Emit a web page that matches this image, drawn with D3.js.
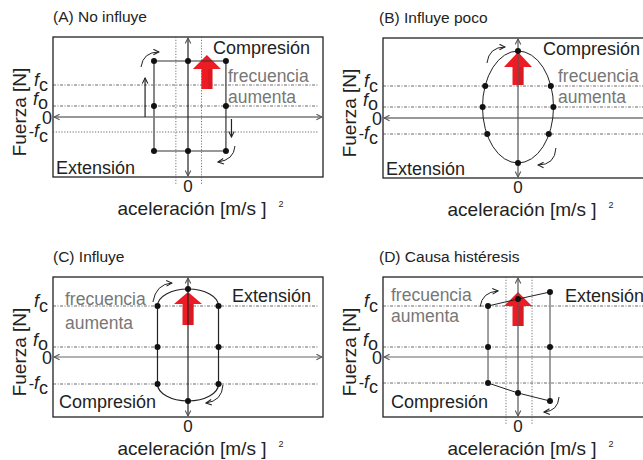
<!DOCTYPE html>
<html><head><meta charset="utf-8">
<script src="https://cdn.jsdelivr.net/npm/d3@7"></script>
<style>body{margin:0;background:#fff} svg{display:block} text{font-family:"Liberation Sans",Arial,Helvetica,sans-serif}</style>
</head><body><svg id="c" width="643" height="460"></svg>
<script>
// ---------- data ----------
const panelTitles = ["(A) No influye", "(B) Influye poco", "(C) Influye", "(D) Causa histéresis"];
const levelNames = ["fc", "fo", "0", "-fc"];
// y-positions of the guide levels (force, arbitrary units) per panel
const levelsA = [0.8, 0.275, 0, -0.375];
const levelsB = [0.8, 0.275, 0, -0.4];
const levelsC = [1.275, 0.25, 0, -0.675];
const levelsD = [1.275, 0.25, 0, -0.65];
// (A) rectangle loop
const loopA = [[-0.252, 1.4], [0.281, 1.4], [0.281, -0.85], [-0.252, -0.85]];
const dotsA = [[-0.252, 1.4], [0, 1.4], [0.281, 1.4], [-0.252, 0.275], [0.281, 0.275], [-0.252, -0.85], [0, -0.85], [0.281, -0.85]];
const vlinesA = [-0.09, 0.1];
// (B) ellipse loop: centre x, centre y, rx, ry
const ellipseB = [0, 0.275, 0.263, 1.4];
const dotsB = [[0, 1.675], [-0.243, 0.8], [0.243, 0.8], [-0.262, 0.275], [0.262, 0.275], [-0.228, -0.4], [0.228, -0.4], [0, -1.125]];
// (C) loop: left x, right x, top peak, bottom peak
const loopC = [-0.226, 0.226, 1.7, -1.1];
const dotsC = [[-0.226, 1.275], [0, 1.7], [0.226, 1.275], [-0.226, 0.25], [0.226, 0.25], [-0.226, -0.675], [0, -1.1], [0.226, -0.675]];
// (D) hysteresis loop
const topD = [[-0.222, 1.275], [0, 1.45], [0.237, 1.625]];
const botD = [[-0.222, -0.65], [0, -0.9], [0.237, -1.1]];
const dotsD = [[-0.222, 1.275], [0, 1.45], [0.237, 1.625], [-0.222, 0.25], [0.237, 0.25], [-0.222, -0.65], [0, -0.9], [0.237, -1.1]];
const vlinesD = [-0.089, 0.104];
// red "frequency increases" arrows: x, tip y, head-base y, tail y
const redArrows = [[0.14, 1.55, 1.2, 0.7], [0, 1.65, 1.275, 0.825], [0, 1.625, 1.325, 0.8], [0, 1.625, 1.275, 0.775]];
// curved direction arrows: start, control, end
const curvesA = [[[-0.348, 1.25], [-0.333, 1.625], [-0.215, 1.625]], [[0.348, -0.725], [0.34, -1.075], [0.222, -1.125]]];
const straightA = [[[-0.318, 0.0], [-0.318, 0.975]], [[0.322, -0.05], [0.322, -0.5]]];
const curvesB = [[[-0.23, 1.375], [-0.215, 1.775], [-0.096, 1.775]], [[0.281, -0.75], [0.274, -1.175], [0.148, -1.175]]];
const curvesC = [[[-0.26, 1.375], [-0.237, 1.825], [-0.119, 1.85]], [[0.259, -0.7], [0.252, -1.1], [0.133, -1.15]]];
const curvesD = [[[-0.281, 1.25], [-0.267, 1.625], [-0.148, 1.65]], [[0.304, -1.0], [0.296, -1.35], [0.193, -1.375]]];
const xTick = "0";
const xTitle = "aceleración [m/s ]";
const yTitle = "Fuerza [N]";

// ---------- layout ----------
const W = 270, H = 140;
const panels = [
  {left: 53, top: 37, levels: levelsA, vlines: vlinesA, curves: curvesA, straight: straightA, hAxis: "#333", vAxis: "#222",
   texts: [["Compresión", 160, 17, "#222"], ["frecuencia", 175, 45, "#777"], ["aumenta", 175, 66, "#777"], ["Extensión", 3, 137, "#222"]]},
  {left: 383, top: 38, levels: levelsB, vlines: [], curves: curvesB, straight: [], hAxis: "#333", vAxis: "#555",
   texts: [["Compresión", 160, 17, "#222"], ["frecuencia", 175, 44, "#777"], ["aumenta", 175, 65, "#777"], ["Extensión", 3, 137, "#222"]]},
  {left: 53, top: 277, levels: levelsC, vlines: [], curves: curvesC, straight: [], hAxis: "#666", vAxis: "#222",
   texts: [["Extensión", 179, 25, "#222"], ["frecuencia", 12, 28, "#777"], ["aumenta", 12, 52, "#777"], ["Compresión", 6, 131, "#222"]]},
  {left: 383, top: 277, levels: levelsD, vlines: vlinesD, curves: curvesD, straight: [], hAxis: "#666", vAxis: "#555",
   texts: [["Extensión", 182, 25, "#222"], ["frecuencia", 8, 24, "#777"], ["aumenta", 8, 45, "#777"], ["Compresión", 8, 131, "#222"]]}
];

const svg = d3.select("#c");
svg.append("rect").attr("width", 643).attr("height", 460).attr("fill", "#fff");
const defs = svg.append("defs");
function chev(id, color) {
  defs.append("marker").attr("id", id).attr("viewBox", "0 0 10 10").attr("refX", 9).attr("refY", 5)
    .attr("markerWidth", 7).attr("markerHeight", 7).attr("markerUnits", "userSpaceOnUse")
    .attr("orient", "auto-start-reverse")
    .append("path").attr("d", "M1,1 L9,5 L1,9").attr("fill", "none").attr("stroke", color).attr("stroke-width", 1.5);
}
chev("ch", "#222");
chev("chg", "#555");

panels.forEach((p, i) => {
  const g = svg.append("g");
  const x = d3.scaleLinear().domain([-1, 1]).range([p.left, p.left + W]);
  const y = d3.scaleLinear().domain([-1.5, 2]).range([p.top + H, p.top]);
  const x0 = x(0);

  // title
  g.append("text").attr("x", p.left + (i % 2 ? -4 : 0)).attr("y", p.top - 15).attr("font-size", 15.5).attr("fill", "#222").text(panelTitles[i]);

  // box
  g.append("rect").attr("x", p.left).attr("y", p.top).attr("width", W).attr("height", H)
    .attr("fill", "none").attr("stroke", "#222").attr("stroke-width", 1.3);

  // guide levels
  p.levels.forEach((v, k) => {
    if (levelNames[k] === "0") return;
    g.append("line").attr("x1", x(-1)).attr("x2", x(1) - 4).attr("y1", y(v)).attr("y2", y(v))
      .attr("stroke", "#444").attr("stroke-width", 0.8)
      .attr("stroke-dasharray", levelNames[k] === "-fc" && i === 0 ? "1.2,1.6" : "3,1.5,1,1.5");
  });
  // vertical dotted guides
  p.vlines.forEach(v => {
    g.append("line").attr("x1", x(v)).attr("x2", x(v)).attr("y1", p.top).attr("y2", p.top + H + 7)
      .attr("stroke", "#555").attr("stroke-width", 0.8).attr("stroke-dasharray", "1.2,1.6");
  });

  // red arrow
  const ra = redArrows[i];
  const ax = x(ra[0]), hw = 14, sw = 5.5;
  g.append("polygon").attr("fill", "#ed1c24").attr("points", [
    [ax, y(ra[1])], [ax + hw, y(ra[2])], [ax + sw, y(ra[2])], [ax + sw, y(ra[3])],
    [ax - sw, y(ra[3])], [ax - sw, y(ra[2])], [ax - hw, y(ra[2])]].map(d => d.join(",")).join(" "));
  g.append("rect").attr("x", ax + 1).attr("y", y(ra[2])).attr("width", sw - 1).attr("height", y(ra[3]) - y(ra[2]))
    .attr("fill", "#d0161e").attr("opacity", 0.6);

  // horizontal axis
  g.append("line").attr("x1", x(-1) + 1).attr("x2", x(1) - 1).attr("y1", y(0)).attr("y2", y(0))
    .attr("stroke", p.hAxis).attr("stroke-width", 1.1)
    .attr("marker-start", "url(#chg)").attr("marker-end", "url(#chg)");

  // loops
  const ln = d3.line().x(d => x(d[0])).y(d => y(d[1]));
  if (i === 0) {
    g.append("path").attr("d", ln(loopA) + "Z").attr("fill", "none").attr("stroke", "#333").attr("stroke-width", 1.2);
    g.append("line").attr("x1", x(loopA[0][0])).attr("x2", x(loopA[3][0])).attr("y1", y(loopA[0][1])).attr("y2", y(loopA[3][1]))
      .attr("stroke", "#888").attr("stroke-width", 1.6);
  } else if (i === 1) {
    const e = ellipseB;
    g.append("ellipse").attr("cx", x(e[0])).attr("cy", y(e[1])).attr("rx", x(e[2]) - x(0)).attr("ry", y(0) - y(e[3]))
      .attr("fill", "none").attr("stroke", "#222").attr("stroke-width", 1);
  } else if (i === 2) {
    const [L, R, tp, bt] = loopC, fc = p.levels[0], mfc = p.levels[3];
    const rx = (x(R) - x(L)) / 2;
    g.append("path").attr("fill", "none").attr("stroke", "#222").attr("stroke-width", 1.2).attr("d",
      `M${x(L)},${y(fc)} A${rx},${y(fc) - y(tp)} 0 0 1 ${x(R)},${y(fc)} L${x(R)},${y(mfc)} A${rx},${y(bt) - y(mfc)} 0 0 1 ${x(L)},${y(mfc)} Z`);
  } else {
    g.append("line").attr("x1", x(topD[0][0])).attr("x2", x(botD[0][0])).attr("y1", y(topD[0][1])).attr("y2", y(botD[0][1]))
      .attr("stroke", "#777").attr("stroke-width", 1.4);
    g.append("line").attr("x1", x(topD[2][0])).attr("x2", x(botD[2][0])).attr("y1", y(topD[2][1])).attr("y2", y(botD[2][1]))
      .attr("stroke", "#777").attr("stroke-width", 1.4);
    g.append("path").attr("d", ln(topD)).attr("fill", "none").attr("stroke", "#222").attr("stroke-width", 1);
    g.append("path").attr("d", ln(botD)).attr("fill", "none").attr("stroke", "#222").attr("stroke-width", 1);
  }

  // vertical axis
  g.append("line").attr("x1", x0).attr("x2", x0).attr("y1", p.top + 1).attr("y2", p.top + H - 1)
    .attr("stroke", p.vAxis).attr("stroke-width", 1.2)
    .attr("marker-start", "url(#chg)").attr("marker-end", "url(#chg)");

  // dots
  const dots = [dotsA, dotsB, dotsC, dotsD][i];
  g.selectAll(null).data(dots).join("circle").attr("cx", d => x(d[0])).attr("cy", d => y(d[1])).attr("r", 3).attr("fill", "#111");

  // direction arrows
  p.curves.forEach(c => {
    g.append("path").attr("d", `M${x(c[0][0])},${y(c[0][1])} Q${x(c[1][0])},${y(c[1][1])} ${x(c[2][0])},${y(c[2][1])}`)
      .attr("fill", "none").attr("stroke", "#222").attr("stroke-width", 1).attr("marker-end", "url(#ch)");
  });
  p.straight.forEach(c => {
    g.append("line").attr("x1", x(c[0][0])).attr("y1", y(c[0][1])).attr("x2", x(c[1][0])).attr("y2", y(c[1][1]))
      .attr("stroke", "#222").attr("stroke-width", 1.2).attr("marker-end", "url(#ch)");
  });

  // in-panel texts
  p.texts.forEach(t => {
    g.append("text").attr("x", p.left + t[1]).attr("y", p.top + t[2]).attr("fill", t[3])
      .attr("font-size", t[0] === "frecuencia" || t[0] === "aumenta" ? 17.5 : 18).text(t[0]);
  });

  // y level labels
  p.levels.forEach((v, k) => {
    const nm = levelNames[k];
    if (nm === "0") {
      g.append("text").attr("x", p.left - 1).attr("y", y(v) + 6.5).attr("text-anchor", "end").attr("font-size", 18).attr("fill", "#222").text("0");
      return;
    }
    const off = nm === "-fc" ? 5 : (nm === "fc" ? 1 : -1);
    const t = g.append("text").attr("x", p.left - 5).attr("y", y(v) + off).attr("text-anchor", "end").attr("font-size", 18).attr("fill", "#222");
    if (nm === "-fc") t.append("tspan").attr("font-size", 16).text("-");
    t.append("tspan").attr("font-style", "italic").text("f");
    t.append("tspan").attr("dy", nm === "fo" ? 4 : 5).text(nm === "fo" ? "o" : "c");
  });

  // axis titles
  g.append("text").attr("transform", `translate(${p.left - 27},${p.top + 75}) rotate(-90)`).attr("text-anchor", "middle")
    .attr("font-size", 19).attr("fill", "#222").text(yTitle);
  g.append("text").attr("x", x0).attr("y", p.top + H + 15).attr("text-anchor", "middle").attr("font-size", 17).attr("fill", "#222").text(xTick);
  g.append("text").attr("x", x0 + 4).attr("y", p.top + H + 38).attr("text-anchor", "middle").attr("font-size", 19).attr("fill", "#222").text(xTitle);
  g.append("text").attr("x", x0 + 93).attr("y", p.top + H + 30).attr("text-anchor", "middle").attr("font-size", 9).attr("fill", "#222").text("2");
});
</script></body></html>
